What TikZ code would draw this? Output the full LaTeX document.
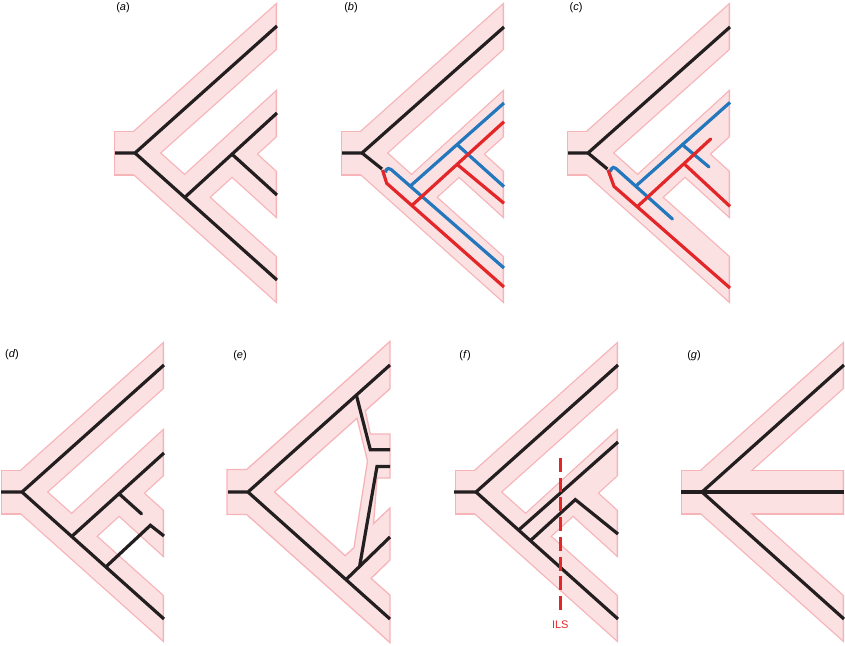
\documentclass[tikz,border=0pt]{standalone}
\usepackage{fontspec}
\setmainfont{Liberation Sans}
\usetikzlibrary{calc}
\definecolor{tubefill}{RGB}{252,225,227}
\definecolor{tubeline}{RGB}{246,180,185}
\definecolor{gk}{RGB}{35,31,32}
\definecolor{gb}{RGB}{35,119,189}
\definecolor{gr}{RGB}{227,38,40}
\tikzset{
 tout/.style={draw=tubeline, line width=35.4pt},
 tin/.style={draw=tubefill, line width=32.8pt},
 sout/.style={draw=tubeline, line width=45pt},
 sin/.style={draw=tubefill, line width=42.4pt},
 gene/.style={line width=3.2pt},
 gblack/.style={gene, draw=gk},
 gblue/.style={gene, draw=gb},
 gred/.style={gene, draw=gr},
 lab/.style={font=\fontsize{11}{13}\selectfont, inner sep=0pt},
 ils/.style={font=\fontsize{11}{13}\selectfont, text=gr, inner sep=0pt},
 ilsline/.style={draw=gr, line width=2.7pt, dash pattern=on 14pt off 5.7pt},
 polytube/.style={draw=tubeline, line width=1.3pt, fill=tubefill},
 polyhole/.style={draw=tubeline, line width=1.3pt, fill=white},
}
\newcommand\stdbranches[1]{%
  \draw[#1] (0,0) -- (184.6,-165.1);
  \draw[#1] (0,0) -- (184.6,165.1);
  \draw[#1] (49.7,44.45) -- (172,-67.4);
  \draw[#1] (97,1.17) -- (172,69.2);}
\newcommand\stdtube{%
  \begin{scope}\clip (-30,-200) rectangle (142,200);
    \stdbranches{tout}\draw[sout] (-21.3,0) -- (0,0);\end{scope}
  \begin{scope}\clip (-30,-200) rectangle (140.7,200);
    \stdbranches{tin}\draw[sin] (-20,0) -- (0,0);\end{scope}}
\begin{document}
\begin{tikzpicture}[x=1pt,y=-1pt]
\useasboundingbox (0,0) rectangle (845,645);
% labels
\node[lab] (la) at (123,8) {(\textit{a})};
\node[lab] (lb) at (351,8) {(\textit{b})};
\node[lab] (lc) at (576,8) {(\textit{c})};
\node[lab] (ld) at (12,355) {(\textit{d})};
\node[lab] (le) at (240,356) {(\textit{e})};
\node[lab] (lf) at (465,356) {(\textit{f})};
\node[lab] (lg) at (694,356) {(\textit{g})};
% ---------- (a)
\begin{scope}[shift={(135,153)}]
 \stdtube
 \coordinate (aS) at (-20,0);
 \coordinate (aR) at (0,0);
 \coordinate (a1) at (142,-127);
 \coordinate (a4) at (142,127);
 \coordinate (aA) at ($(aR)!0.35!(a4)$);
 \coordinate (a2) at (142,-40);
 \coordinate (aB) at ($(aA)!0.5125!(a2)$);
 \coordinate (a3) at (142,42);
 \draw[gblack] (aS) -- (aR) -- (a1);
 \draw[gblack] (aR) -- (a4);
 \draw[gblack] (aA) -- (a2);
 \draw[gblack] (aB) -- (a3);
\end{scope}
% ---------- (b)
\begin{scope}[shift={(362,153)}]
 \stdtube
 \coordinate (bS) at (-20,0);
 \coordinate (bR) at (0,0);
 \coordinate (b1) at (142,-126);
 \coordinate (bK) at (20,16);
 \coordinate (bu0) at (23.5,19.5);
 \coordinate (bu1) at (24.5,15.5);
 \coordinate (bu2) at (28,15.5);
 \coordinate (buL) at (142,115);
 \coordinate (buN) at ($(bu2)!0.177!(buL)$);
 \coordinate (buI) at (142,-50);
 \coordinate (buM) at ($(buN)!0.5!(buI)$);
 \coordinate (buC) at (142,33.7);
 \coordinate (rd0) at (20.5,17);
 \coordinate (rd1) at (24.7,30.3);
 \coordinate (rdL) at (142,134);
 \coordinate (rdN) at ($(rd1)!0.214!(rdL)$);
 \coordinate (rdI) at (142,-31.3);
 \coordinate (rdM) at ($(rdN)!0.491!(rdI)$);
 \coordinate (rdC) at (142,50.3);
 \draw[gblack] (bS) -- (bR) -- (b1);
 \draw[gblack] (bR) -- (bK);
 \draw[gblue, rounded corners=1.5pt] (bu0) -- (bu1) -- (bu2) -- (buL);
 \draw[gblue] (buN) -- (buI);
 \draw[gblue] (buM) -- (buC);
 \draw[gred] (rd0) -- (rd1) -- (rdL);
 \draw[gred] (rdN) -- (rdI);
 \draw[gred] (rdM) -- (rdC);
\end{scope}
% ---------- (c)
\begin{scope}[shift={(588,153)}]
 \stdtube
 \coordinate (cS) at (-20,0);
 \coordinate (cR) at (0,0);
 \coordinate (c1) at (142,-126);
 \coordinate (cK) at (19.4,16);
 \coordinate (cr0) at (20,16.7);
 \coordinate (cr1) at (26,33.4);
 \coordinate (crL) at (142,135);
 \coordinate (crN) at ($(cr1)!0.2!(crL)$);
 \coordinate (crI) at (122.7,-14);
 \coordinate (crM) at ($(crN)!0.636!(crI)$);
 \coordinate (crC) at (142,53.4);
 \coordinate (cb0) at (22.7,18);
 \coordinate (cb1) at (23.7,14.4);
 \coordinate (cb2) at (26.7,14.4);
 \coordinate (cbE) at (84.4,66);
 \coordinate (cbN) at ($(cb2)!0.364!(cbE)$);
 \coordinate (cbI) at (142,-50.6);
 \coordinate (cbM) at ($(cbN)!0.495!(cbI)$);
 \coordinate (cbC) at (121,14);
 \draw[gblack] (cS) -- (cR) -- (c1);
 \draw[gblack] (cR) -- (cK);
 \draw[gblue, rounded corners=1.5pt, line cap=round] (cb0) -- (cb1) -- (cb2) -- (cbE);
 \draw[gblue] (cbN) -- (cbI);
 \draw[gblue, line cap=round] (cbM) -- (cbC);
 \draw[gred] (cr0) -- (cr1) -- (crL);
 \draw[gred, line cap=round] (crN) -- (crI);
 \draw[gred] (crM) -- (crC);
\end{scope}
% ---------- (d)
\begin{scope}[shift={(22,492)}]
 \stdtube
 \coordinate (dS) at (-21,0);
 \coordinate (dR) at (0,0);
 \coordinate (d1) at (142,-127);
 \coordinate (d4) at (142,127);
 \coordinate (dA) at ($(dR)!0.35!(d4)$);
 \coordinate (d2) at (142,-39);
 \coordinate (dB) at ($(dA)!0.5125!(d2)$);
 \coordinate (d3) at (142,42);
 \coordinate (dCe) at ($(dB)!0.5!(d3)$);
 \coordinate (dD) at ($(dR)!0.59!(d4)$);
 \coordinate (dE) at (128.4,33.3);
 \coordinate (d3b) at (142,44);
 \draw[gblack] (dS) -- (dR) -- (d1);
 \draw[gblack] (dR) -- (d4);
 \draw[gblack] (dA) -- (d2);
 \draw[gblack, line cap=round] (dB) -- (dCe);
 \draw[gblack] (dD) -- (dE) -- (d3b);
\end{scope}
% ---------- (e)
\begin{scope}[shift={(248,492)}]
 \path[polytube] (-21,-22.5) -- (-1.3,-22.5) -- (142,-150.6) -- (142,-103.3)
   -- (117.3,-81.2) -- (122.3,-58) -- (142,-58) -- (142,-14) -- (129,-14)
   -- (125.6,31.5) -- (142,16) -- (142,68) -- (123.1,86.4) -- (142,103.2)
   -- (142,150.6) -- (-1.3,22.5) -- (-21,22.5) -- cycle;
 \path[polyhole] (26.5,0) -- (109,-73.8) -- (119.5,-31) -- (106,55.5) -- (97.2,63.7) -- cycle;
 \coordinate (eS) at (-20,0);
 \coordinate (eR) at (0,0);
 \coordinate (e1) at (142,-127);
 \coordinate (e4) at (142,127);
 \coordinate (eU) at ($(eR)!0.763!(e1)$);
 \coordinate (eV) at (122.3,-42.3);
 \coordinate (e2) at (142,-42.3);
 \coordinate (eL) at ($(eR)!0.69!(e4)$);
 \coordinate (e3) at (142,45);
 \coordinate (eM) at ($(eL)!0.309!(e3)$);
 \coordinate (eW) at (129,-25.6);
 \coordinate (e2b) at (142,-25.6);
 \draw[gblack] (eS) -- (eR) -- (e1);
 \draw[gblack] (eR) -- (e4);
 \draw[gblack] (eU) -- (eV) -- (e2);
 \draw[gblack] (eL) -- (e3);
 \draw[gblack] (eM) -- (eW) -- (e2b);
\end{scope}
% ---------- (f)
\begin{scope}[shift={(476,492)}]
 \stdtube
 \coordinate (fS) at (-22,0);
 \coordinate (fR) at (0,0);
 \coordinate (f1) at (142,-127);
 \coordinate (f4) at (142,127);
 \coordinate (fN1) at ($(fR)!0.3!(f4)$);
 \coordinate (f2) at (142,-50);
 \coordinate (fN2) at ($(fR)!0.383!(f4)$);
 \coordinate (fE) at (99.3,7.6);
 \coordinate (f3) at (142,42);
 \coordinate (fT) at (84.3,-34);
 \coordinate (fB) at (84.3,118);
 \draw[gblack] (fS) -- (fR) -- (f1);
 \draw[gblack] (fR) -- (f4);
 \draw[gblack] (fN1) -- (f2);
 \draw[gblack] (fN2) -- (fE) -- (f3);
 \draw[ilsline] (fT) -- (fB);
 \node[ils] (fILS) at (84.3,133) {ILS};
\end{scope}
% ---------- (g)
\begin{scope}[shift={(702,492)}]
 \begin{scope}\clip (-30,-200) rectangle (142,200);
  \draw[tout] (0,0) -- (184.6,-165.1);
  \draw[tout] (0,0) -- (184.6,165.1);
  \draw[sout] (-21.3,0) -- (160,0);
 \end{scope}
 \begin{scope}\clip (-30,-200) rectangle (140.7,200);
  \draw[tin] (0,0) -- (184.6,-165.1);
  \draw[tin] (0,0) -- (184.6,165.1);
  \draw[sin] (-20,0) -- (160,0);
 \end{scope}
 \coordinate (gS) at (-21,0);
 \coordinate (gR) at (0,0);
 \coordinate (g1) at (142,-127);
 \coordinate (g2) at (142,0);
 \coordinate (g3) at (142,127);
 \draw[gblack] (gS) -- (g2);
 \draw[gblack] (gR) -- (g1);
 \draw[gblack] (gR) -- (g3);
\end{scope}
\end{tikzpicture}
\end{document}
